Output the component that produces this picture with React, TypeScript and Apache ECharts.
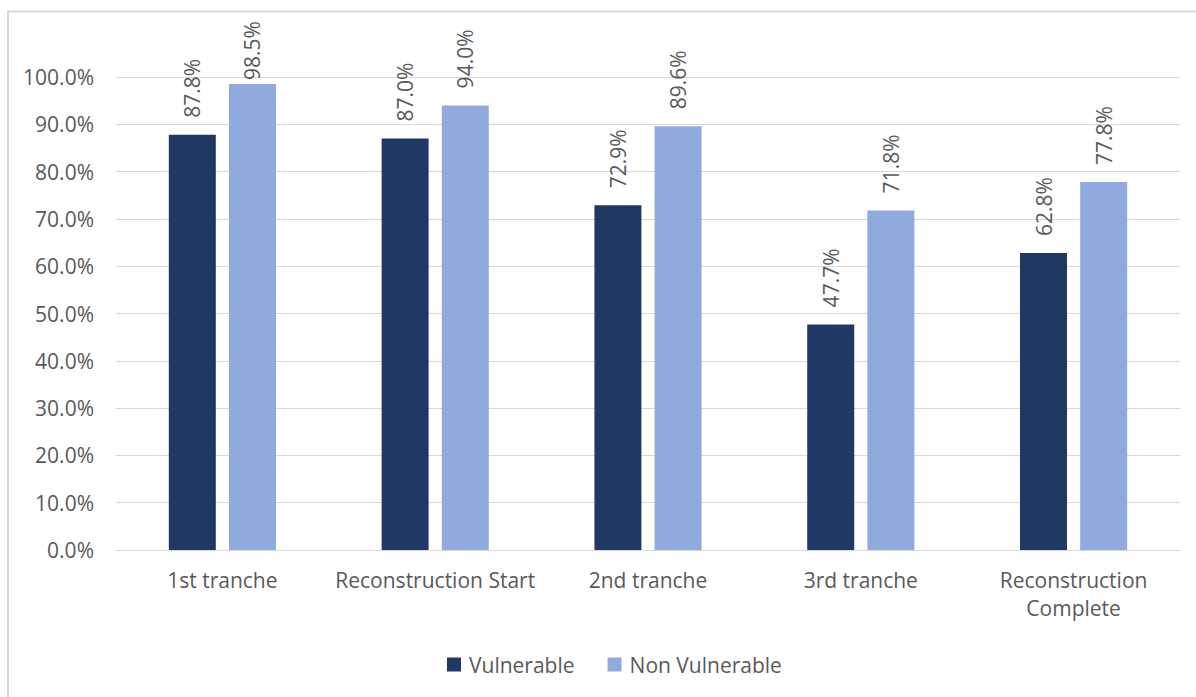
import React, { useEffect, useRef } from "react";
import * as echarts from "echarts";

const categories = [
  "1st tranche",
  "Reconstruction Start",
  "2nd tranche",
  "3rd tranche",
  "Reconstruction Complete",
];
const vulnerable = [87.8, 87.0, 72.9, 47.7, 62.8];
const nonVulnerable = [98.5, 94.0, 89.6, 71.8, 77.8];
const seriesNames = ["Vulnerable", "Non Vulnerable"];

const FONT = "'Open Sans', 'Noto Sans', sans-serif";
const TEXT = "#595959";
const GRID = "#d9d9d9";
const FONT_SIZE = 21;

const W = 1196;
const H = 697;
const GRID_TOP = 77;
const GRID_BOTTOM = 147;
const Y_MAX = 100;

// Long category names wrap onto a second line at the last space.
const wrap = (s: string) => {
  if (s.length <= 22) return s;
  const i = s.lastIndexOf(" ");
  return s.slice(0, i) + "\n" + s.slice(i + 1);
};

const fmt = (v: number) => `${v.toFixed(1)}%`;

// Value labels sit above each bar; a label that would run past the top of
// the chart area is pulled down toward its bar.
const LABEL_GAP = 17;
const LABEL_LEN = 60;
const LABEL_TOP_LIMIT = 20;
const plotH = H - GRID_TOP - GRID_BOTTOM;
const toData = (values: number[]) =>
  values.map((v) => {
    const barTop = GRID_TOP + plotH * (1 - v / Y_MAX);
    const room = barTop - LABEL_TOP_LIMIT - LABEL_LEN;
    const distance = Math.max(4, Math.min(LABEL_GAP, room));
    return { value: v, label: { distance } };
  });

const valueLabel = {
  show: true,
  position: "top" as const,
  rotate: 90,
  align: "left" as const,
  verticalAlign: "middle" as const,
  distance: LABEL_GAP,
  color: TEXT,
  fontFamily: FONT,
  fontSize: FONT_SIZE,
  formatter: (p: any) => fmt(Number(p.value)),
};

export default function App() {
  const ref = useRef<HTMLDivElement>(null);

  useEffect(() => {
    if (!ref.current) return;
    const chart = echarts.init(ref.current, undefined, { renderer: "svg" });
    chart.setOption({
      animation: false,
      backgroundColor: "#ffffff",
      textStyle: { fontFamily: FONT, color: TEXT },
      graphic: [
        {
          type: "polyline",
          shape: { points: [[8, H], [8, 11.5], [W, 11.5]] },
          style: { stroke: GRID, lineWidth: 2, fill: null },
          silent: true,
        },
      ],
      grid: { left: 116, right: 16, top: GRID_TOP, bottom: GRID_BOTTOM, containLabel: false },
      legend: {
        bottom: 17,
        left: 442,
        itemWidth: 14,
        itemHeight: 14,
        itemGap: 33,
        icon: "rect",
        textStyle: {
          color: TEXT,
          fontFamily: FONT,
          fontSize: FONT_SIZE,
          padding: [0, 0, 0, 3],
        },
        data: seriesNames,
      },
      xAxis: {
        type: "category",
        data: categories,
        axisLine: { show: true, lineStyle: { color: GRID, width: 1 } },
        axisTick: { show: false },
        axisLabel: {
          color: TEXT,
          fontFamily: FONT,
          fontSize: FONT_SIZE,
          margin: 16,
          lineHeight: 28,
          interval: 0,
          formatter: wrap,
        },
      },
      yAxis: {
        type: "value",
        min: 0,
        max: Y_MAX,
        interval: 10,
        axisLine: { show: false },
        axisTick: { show: false },
        splitLine: { lineStyle: { color: GRID, width: 1 } },
        axisLabel: {
          color: TEXT,
          fontFamily: FONT,
          fontSize: FONT_SIZE,
          margin: 22,
          formatter: (v: number) => fmt(v),
        },
      },
      series: [
        {
          name: seriesNames[0],
          type: "bar",
          data: toData(vulnerable),
          barWidth: 47,
          barGap: "28%",
          itemStyle: { color: "#203864" },
          label: valueLabel,
        },
        {
          name: seriesNames[1],
          type: "bar",
          data: toData(nonVulnerable),
          barWidth: 47,
          itemStyle: { color: "#8faadc" },
          label: valueLabel,
        },
      ],
    });
    return () => chart.dispose();
  }, []);

  return (
    <div
      ref={ref}
      style={{ position: "absolute", left: 0, top: 0, width: W, height: H }}
    />
  );
}
